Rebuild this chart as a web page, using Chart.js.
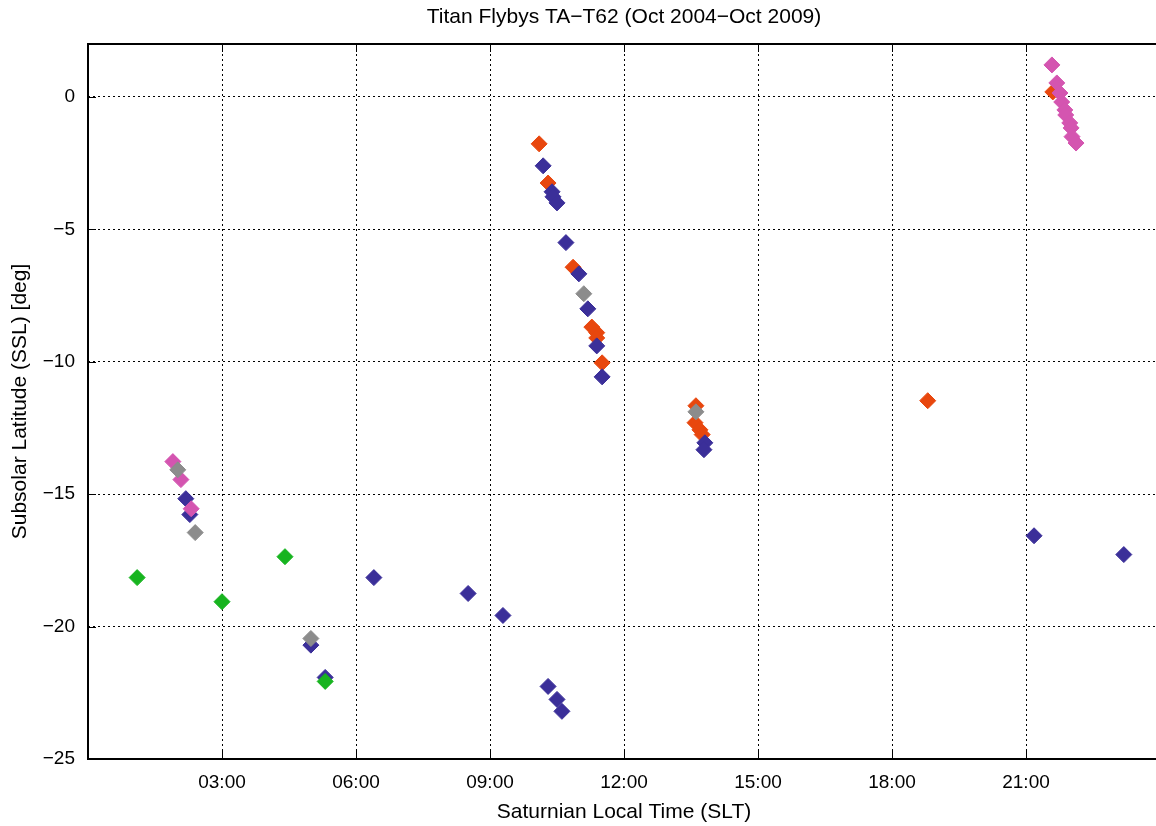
<!DOCTYPE html>
<html>
<head>
<meta charset="utf-8">
<script src="https://cdn.jsdelivr.net/npm/chart.js@4.4.1/dist/chart.umd.min.js"></script>
<style>
  html, body { margin: 0; padding: 0; background: #fff; overflow: hidden; }
  #wrap { width: 1156px; height: 826px; overflow: hidden; }
</style>
</head>
<body>
<div id="wrap"><canvas id="flybys" width="1162" height="826"></canvas></div>
<script>
// Saturnian local time (hours) and subsolar latitude (deg), one pair of arrays per colour group
let sltGreen = [1.10, 3.00, 4.41, 5.31]
let sslGreen = [-18.15, -19.06, -17.36, -22.07]

let sltGray = [2.01, 2.40, 4.99, 11.10, 13.61]
let sslGray = [-14.08, -16.45, -20.45, -7.43, -11.89]

let sltPink = [1.90, 2.08, 2.31, 21.58, 21.69, 21.76, 21.80, 21.87, 21.89, 21.98, 22.01, 22.03, 22.12]
let sslPink = [-13.77, -14.45, -15.55, 1.21, 0.53, 0.15, -0.19, -0.49, -0.68, -0.98, -1.17, -1.50, -1.74]

let sltBlue = [2.19, 2.28, 4.99, 5.31, 6.40, 8.51, 9.29, 10.30, 10.50, 10.61,
               10.19, 10.39, 10.41, 10.50, 10.70, 10.99, 11.19, 11.39, 11.51,
               13.81, 13.79, 21.18, 23.19]
let sslBlue = [-15.17, -15.77, -20.70, -21.92, -18.15, -18.75, -19.58, -22.26, -22.75, -23.20,
               -2.60, -3.58, -3.77, -4.00, -5.50, -6.68, -8.00, -9.40, -10.57,
               -13.06, -13.32, -16.57, -17.28]

let sltOrange = [10.10, 10.30, 10.86, 11.28, 11.39, 11.39, 11.51, 13.61, 13.59, 13.70, 13.75, 18.80, 21.60]
let sslOrange = [-1.77, -3.25, -6.43, -8.69, -8.90, -9.10, -10.04, -11.66, -12.30, -12.57, -12.75, -11.47, 0.19]

let hourTicks = [3, 6, 9, 12, 15, 18, 21]
let latTicks = [-25, -20, -15, -10, -5, 0]

const FONT = "'Liberation Sans', Arial, sans-serif"

function pairs(xs, ys) {
    return xs.map((x, i) => ({ x: x, y: ys[i] }))
}

function series(xs, ys, colour) {
    return {
        data: pairs(xs, ys),
        pointStyle: 'rectRot',
        pointRadius: 8,
        pointHoverRadius: 8,
        borderWidth: 1,
        backgroundColor: colour,
        borderColor: colour,
        showLine: false
    }
}

// frame with inward tick marks, like the original plot
const framePlugin = {
    id: 'frame',
    afterDraw(chart) {
        const ctx = chart.ctx
        const a = chart.chartArea
        const xs = chart.scales.x
        const ys = chart.scales.y
        ctx.save()
        ctx.strokeStyle = '#000'
        ctx.lineWidth = 2
        ctx.setLineDash([])
        ctx.beginPath()
        ctx.moveTo(a.left, a.top)
        ctx.lineTo(a.right, a.top)
        ctx.moveTo(a.left, a.top - 1)
        ctx.lineTo(a.left, a.bottom)
        ctx.moveTo(a.left - 1, a.bottom)
        ctx.lineTo(a.right, a.bottom)
        ctx.stroke()
        ctx.lineWidth = 1
        ctx.beginPath()
        hourTicks.forEach(h => {
            const px = Math.round(xs.getPixelForValue(h)) + 0.5
            ctx.moveTo(px, a.bottom)
            ctx.lineTo(px, a.bottom - 8)
            ctx.moveTo(px, a.top)
            ctx.lineTo(px, a.top + 8)
        })
        latTicks.forEach(v => {
            const py = Math.round(ys.getPixelForValue(v)) + 0.5
            ctx.moveTo(a.left, py)
            ctx.lineTo(a.left + 8, py)
        })
        ctx.stroke()
        ctx.restore()
    }
}

new Chart(document.getElementById('flybys'), {
    type: 'scatter',
    data: {
        datasets: [
            series(sltGreen, sslGreen, '#17b41f'),
            series(sltGray, sslGray, '#8c8c8c'),
            series(sltPink, sslPink, '#d455b0'),
            series(sltBlue, sslBlue, '#3b2f99'),
            series(sltOrange, sslOrange, '#e8470e')
        ]
    },
    options: {
        responsive: false,
        animation: false,
        layout: { autoPadding: false, padding: { left: 0, right: 2, top: 0, bottom: 0 } },
        plugins: {
            legend: { display: false },
            tooltip: { enabled: false },
            title: {
                display: true,
                fullSize: false,
                text: 'Titan Flybys TA\u2212T62 (Oct 2004\u2212Oct 2009)',
                color: '#000',
                font: { family: FONT, size: 21, weight: 'normal' },
                padding: { top: 5, bottom: 13.8 }
            }
        },
        scales: {
            x: {
                type: 'linear',
                min: 0,
                max: 24,
                afterFit(scale) { scale.height = 67 },
                afterBuildTicks(scale) { scale.ticks = hourTicks.map(v => ({ value: v })) },
                border: { display: false, dash: [2, 3] },
                grid: { color: '#000', lineWidth: 1, drawTicks: false },
                ticks: {
                    color: '#000',
                    padding: 12,
                    maxRotation: 0,
                    font: { family: FONT, size: 19 },
                    callback: v => String(v).padStart(2, '0') + ':00'
                },
                title: {
                    display: true,
                    text: 'Saturnian Local Time (SLT)',
                    color: '#000',
                    font: { family: FONT, size: 21 },
                    padding: { top: 0, bottom: 1 }
                }
            },
            y: {
                type: 'linear',
                min: -25,
                max: 2,
                afterFit(scale) { scale.width = 88 },
                afterBuildTicks(scale) { scale.ticks = latTicks.map(v => ({ value: v })) },
                border: { display: false, dash: [2, 3] },
                grid: {
                    color: c => (c.tick && c.tick.value === -25) ? 'rgba(0,0,0,0)' : '#000',
                    lineWidth: 1,
                    drawTicks: false
                },
                ticks: {
                    color: '#000',
                    padding: 13,
                    font: { family: FONT, size: 19 },
                    callback: v => v < 0 ? '\u2212' + Math.abs(v) : String(v)
                },
                title: {
                    display: true,
                    text: 'Subsolar Latitude (SSL) [deg]',
                    color: '#000',
                    font: { family: FONT, size: 21 },
                    padding: { top: 8, bottom: 0 }
                }
            }
        }
    },
    plugins: [framePlugin]
})
</script>
</body>
</html>
